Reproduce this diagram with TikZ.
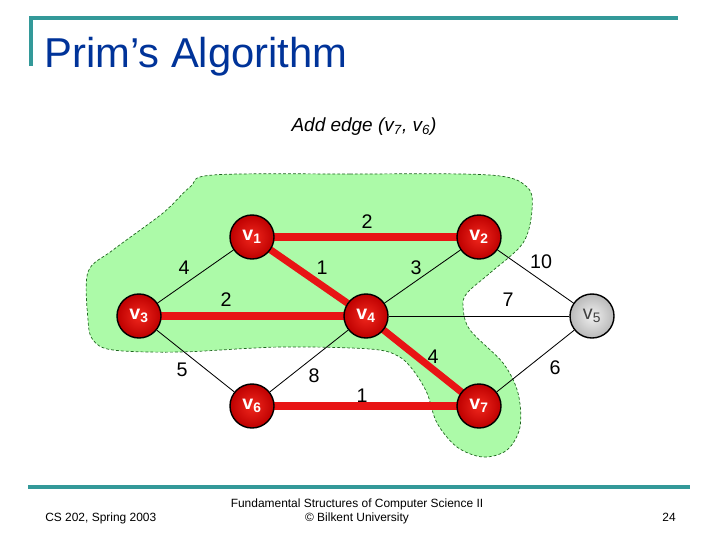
\documentclass[tikz,border=0pt]{standalone}
\usepackage{fontspec}
\setmainfont{Liberation Sans}
\usetikzlibrary{arrows.meta,positioning}
\definecolor{slideteal}{RGB}{51,153,153}
\definecolor{titleblue}{RGB}{0,51,153}
\definecolor{blobgreen}{RGB}{172,250,168}
\definecolor{blobline}{RGB}{30,100,30}
\definecolor{vred}{RGB}{232,20,20}
\definecolor{vredin}{RGB}{240,40,30}
\definecolor{vredout}{RGB}{190,0,0}
\pgfdeclarelayer{bg}
\pgfsetlayers{bg,main}
\tikzset{
  >=Stealth,
  vtx/.style={draw=black,line width=1pt,circle,minimum size=1.1cm,inner sep=0pt,shading=radial,inner color=vredin,outer color=vredout,text=white,font=\fontsize{14}{14}\selectfont\bfseries},
  vtxout/.style={vtx,inner color=gray!12,outer color=gray!55,text=black!75,font=\fontsize{14}{14}\selectfont},
  link/.style={line width=0.6pt},
  treelink/.style={line width=5pt,draw=vred},
  wt/.style={font=\fontsize{14}{14}\selectfont,inner sep=1pt},
  blob/.style={fill=blobgreen,draw=blobline,dashed,dash pattern=on 2pt off 1.5pt,line width=0.5pt},
  foot/.style={font=\fontsize{8.5}{10}\selectfont,inner sep=0pt}
}
\begin{document}
\begin{tikzpicture}[x=0.025cm,y=-0.025cm]
\useasboundingbox(0,0)rectangle(720,540);
% frame of the slide
\draw[slideteal,line width=2.2pt](31,66)--(31,18)--(678,18);
\draw[slideteal,line width=2.8pt](28,487)--(690,487);
\node[font=\fontsize{29.7}{32}\selectfont,text=titleblue,anchor=base west,inner sep=0pt](title)at(44,67){Prim’s Algorithm};
\node[font=\fontsize{13.5}{15}\selectfont\itshape,anchor=base,inner sep=0pt](step)at(364,131){Add edge (v\textsubscript{7}, v\textsubscript{6})};
% vertices
\node[vtx](v1)at(252,237){v\textsubscript{1}};
\node[vtx](v2)at(479,237){v\textsubscript{2}};
\node[vtx](v3)at(139,316){v\textsubscript{3}};
\node[vtx](v4)at(366,316){v\textsubscript{4}};
\node[vtxout](v5)at(592,316){v\textsubscript{5}};
\node[vtx](v6)at(252,406){v\textsubscript{6}};
\node[vtx](v7)at(479,406){v\textsubscript{7}};
\begin{pgfonlayer}{bg}
% vertices already in the tree
\draw[blob]plot[smooth cycle,tension=0.55]coordinates{(213,175)(350,174)(490,175)(527,187)(532,210)(523,243)(490,273)(467,293)(463,307)(470,330)(503,363)(518,393)(520,427)(507,450)(483,457)(457,447)(437,423)(427,393)(413,370)(398,356)(370,349)(280,347)(180,352)(113,350)(93,340)(88,320)(88,272)(113,250)(163,213)(190,187)};
\draw[link](v1)--(v3);\draw[link](v2)--(v4);
\draw[link](v2)--(v5);\draw[link](v4)--(v5);
\draw[link](v3)--(v6);\draw[link](v4)--(v6);
\draw[link](v5)--(v7);
\draw[treelink](v1.center)--(v2.center);\draw[treelink](v1.center)--(v4.center);
\draw[treelink](v3.center)--(v4.center);\draw[treelink](v4.center)--(v7.center);
\draw[treelink](v6.center)--(v7.center);
\end{pgfonlayer}
% weights
\node[wt](w12)at(367,222){2};
\node[wt](w13)at(184,268){4};
\node[wt](w14)at(322,268){1};
\node[wt](w24)at(416,268){3};
\node[wt](w25)at(541,262){10};
\node[wt](w34)at(226,300){2};
\node[wt](w45)at(508,300){7};
\node[wt](w36)at(182,370){5};
\node[wt](w46)at(314,376){8};
\node[wt](w47)at(433,357){4};
\node[wt](w57)at(555,368){6};
\node[wt](w67)at(362,396){1};
% footer
\node[foot,anchor=base west](course)at(45,521){CS 202, Spring 2003};
\node[foot,anchor=base](book)at(357,507){Fundamental Structures of Computer Science II};
\node[foot,anchor=base](uni)at(357,521){© Bilkent University};
\node[foot,anchor=base east](page)at(676,521){24};
\end{tikzpicture}
\end{document}
